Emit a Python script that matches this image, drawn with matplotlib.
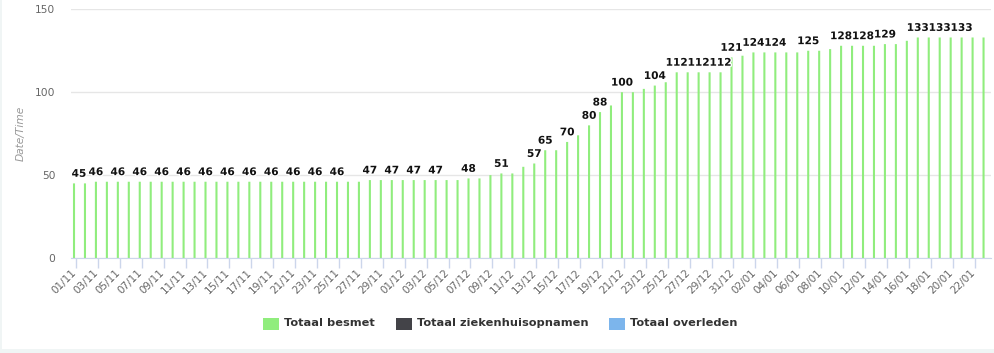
import matplotlib
matplotlib.use('Agg')
import matplotlib.pyplot as plt
import matplotlib.patheffects as pe
import matplotlib.transforms as mtransforms
from matplotlib.patches import Rectangle
import pandas as pd

# categories: one bar per day, 01/11 - 23/01
dates = pd.date_range('2020-11-01', '2021-01-23', freq='D')
day_labels = [d.strftime('%d/%m') for d in dates]

series_names = ['Totaal besmet', 'Totaal ziekenhuisopnamen', 'Totaal overleden']
series_colors = ['#90ed7d', '#434348', '#7cb5ec']

totaal_besmet = [
    45, 45, 46, 46, 46, 46, 46, 46, 46, 46,
    46, 46, 46, 46, 46, 46, 46, 46, 46, 46,
    46, 46, 46, 46, 46, 46, 46, 47, 47, 47,
    47, 47, 47, 47, 47, 47, 48, 48, 50, 51,
    51, 55, 57, 65, 65, 70, 74, 80, 88, 92,
    100, 100, 102, 104, 106, 112, 112, 112, 112, 112,
    121, 122, 124, 124, 124, 124, 124, 125, 125, 126,
    128, 128, 128, 128, 129, 129, 131, 133, 133, 133,
    133, 133, 133, 133,
]
# the other two series are empty in this view
totaal_ziekenhuis = []
totaal_overleden = []

# bars whose data label is shown (the others are hidden by overlap)
label_idx = [0, 2, 4, 6, 8, 10, 12, 14, 16, 18, 20, 22, 24, 27, 29, 31, 33,
             36, 39, 42, 43, 45, 47, 48, 50, 53, 55, 57, 59, 60, 62, 64,
             67, 70, 72, 74, 77, 79, 81]

W, H = 994, 353
fig = plt.figure(figsize=(W / 100, H / 100), dpi=100)
fig.patch.set_facecolor('white')

left, right, top, bottom = 70.5, 991, 9.3, 258
ax = fig.add_axes([left / W, 1 - bottom / H, (right - left) / W, (bottom - top) / H])

x = list(range(len(totaal_besmet)))
ax.bar([i - 0.18 for i in x], totaal_besmet, width=0.19, color=series_colors[0],
       zorder=3, linewidth=0, snap=False, antialiased=True)

ax.set_xlim(-0.5, len(x) - 0.5)
ax.set_ylim(0, 150)
ax.set_yticks([0, 50, 100, 150])
ax.yaxis.grid(True, color='#e6e6e6', lw=1)
ax.set_axisbelow(True)
for s in ['top', 'right', 'left']:
    ax.spines[s].set_visible(False)
ax.spines['bottom'].set_color('#ccd6eb')
ax.spines['bottom'].set_zorder(4)

ax.tick_params(axis='y', length=0, pad=11, labelsize=7.7, labelcolor='#666666')
ax.set_xticks(x[::2])
ax.set_xticklabels(day_labels[::2], rotation=45, ha='right')
ax.tick_params(axis='x', length=7, width=1, color='#ccd6eb', pad=0,
               labelsize=7.5, labelcolor='#666666')
shift = mtransforms.ScaledTranslation(2.5 / 100, 0, fig.dpi_scale_trans)
for lab in ax.get_xticklabels():
    lab.set_transform(lab.get_transform() + shift)

fig.text(21 / W, 1 - 133.6 / H, 'Date/Time', rotation=90, ha='center', va='center',
         fontsize=7.7, style='italic', color='#999999')

# data labels
outline = [pe.withStroke(linewidth=2, foreground='white')]
fig.canvas.draw()
renderer = fig.canvas.get_renderer()
ax_box = ax.get_window_extent(renderer)
for i in label_idx:
    v = totaal_besmet[i]
    t = ax.annotate(str(v), (i - 0.18, v), xytext=(0, 4.75), textcoords='offset points',
                    ha='center', va='baseline', fontsize=7.6, fontweight='bold',
                    color='#111111', path_effects=outline, zorder=5)
    bb = t.get_window_extent(renderer)
    if bb.x0 < ax_box.x0:
        t.remove()
        ax.annotate(str(v), (-0.5, v), xytext=(0.8, 4.75), textcoords='offset points',
                    ha='left', va='baseline', fontsize=7.6, fontweight='bold',
                    color='#111111', path_effects=outline, zorder=5)

# legend, laid out by hand and centred
leg_y = 323.5
sq_w, sq_h, gap, item_gap = 16, 12, 5, 21
texts = []
widths = []
for name in series_names:
    t = fig.text(0, 1 - leg_y / H, name, fontsize=8.2, fontweight='bold',
                 color='#333333', ha='left', va='center')
    widths.append(t.get_window_extent(renderer).width)
    texts.append(t)
total = sum(sq_w + gap + w for w in widths) + item_gap * (len(widths) - 1)
xpos = 500.5 - total / 2
for t, w, c in zip(texts, widths, series_colors):
    fig.add_artist(Rectangle((xpos / W, 1 - (leg_y + sq_h / 2) / H), sq_w / W, sq_h / H,
                             transform=fig.transFigure, color=c, lw=0))
    t.set_x((xpos + sq_w + gap) / W)
    xpos += sq_w + gap + w + item_gap

# light container border
fig.add_artist(Rectangle((0, 0), 1, 4 / H, transform=fig.transFigure,
                         color='#f0f5f5', lw=0))
fig.add_artist(Rectangle((0, 0), 1.5 / W, 1, transform=fig.transFigure,
                         color='#f0f5f5', lw=0))

fig.savefig('out.png', dpi=100)
